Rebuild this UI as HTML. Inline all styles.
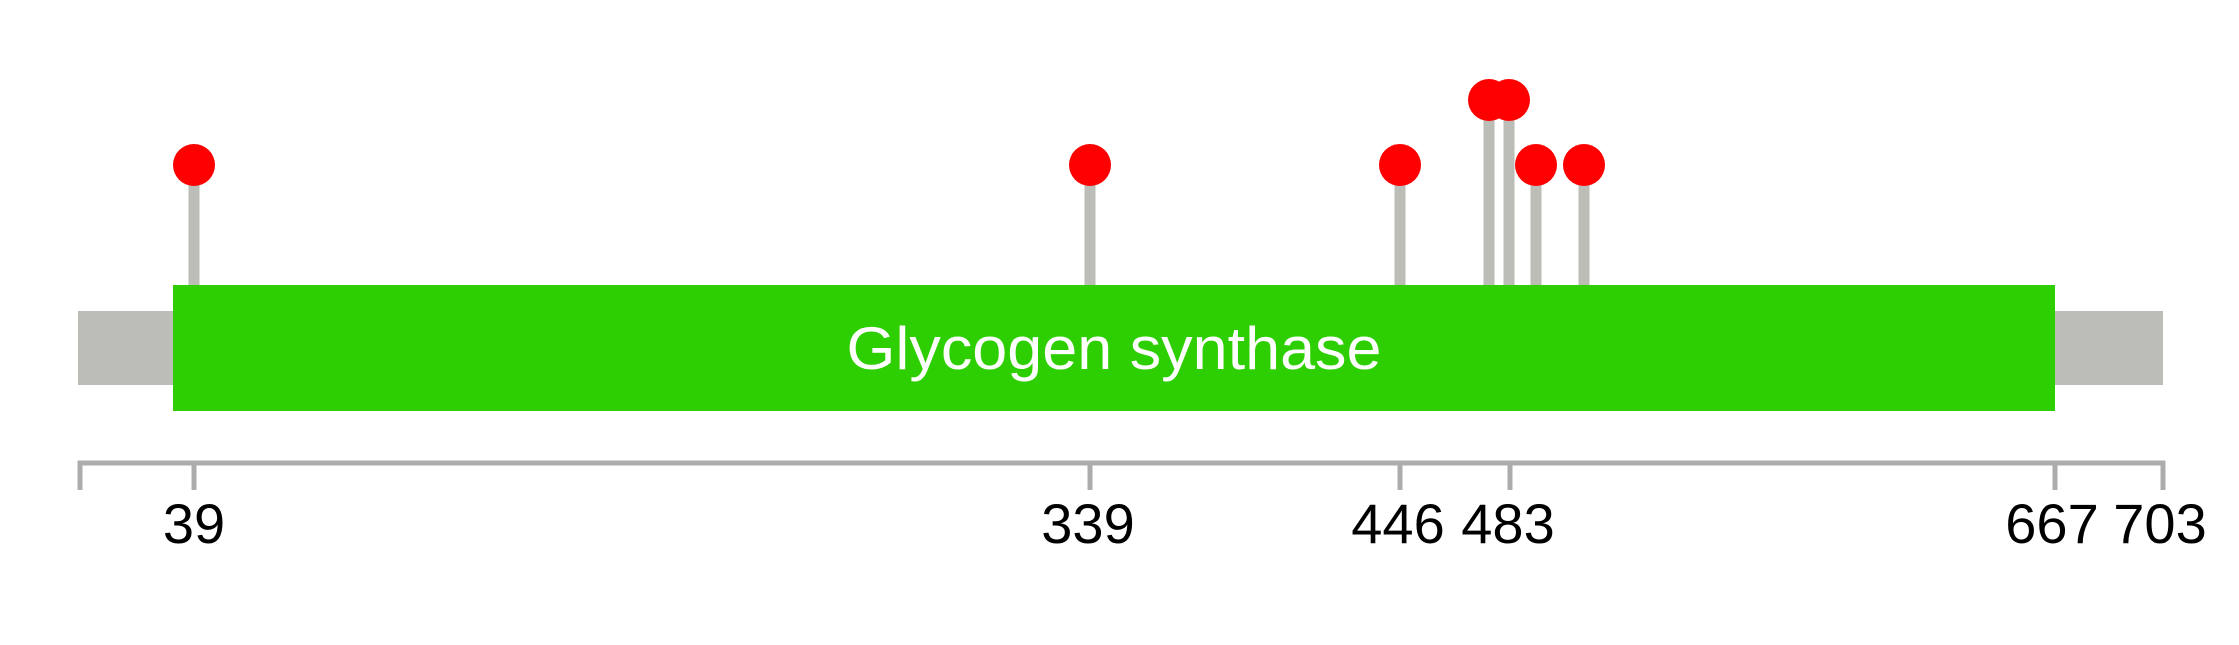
<!DOCTYPE html>
<html><head><meta charset="utf-8"><style>html,body{margin:0;padding:0;background:#fff}svg{display:block}</style></head>
<body>
<svg width="2239" height="645" xmlns="http://www.w3.org/2000/svg" font-family="Liberation Sans, Arial, sans-serif">
<rect x="78" y="311" width="2085" height="74" fill="#bbbdb6"/>
<g stroke="#bbbdb6" stroke-width="11">
<line x1="194" y1="165" x2="194" y2="286"/>
<line x1="1090" y1="165" x2="1090" y2="286"/>
<line x1="1400" y1="165" x2="1400" y2="286"/>
<line x1="1489" y1="100" x2="1489" y2="286"/>
<line x1="1509" y1="100" x2="1509" y2="286"/>
<line x1="1536" y1="165" x2="1536" y2="286"/>
<line x1="1584" y1="165" x2="1584" y2="286"/>
</g>
<rect x="173" y="285" width="1882" height="126" fill="#2ecf02"/>
<text x="1114" y="369" font-size="60" fill="#fff" text-anchor="middle" textLength="535" lengthAdjust="spacingAndGlyphs">Glycogen synthase</text>
<g fill="#ff0000">
<circle cx="194" cy="165" r="21"/>
<circle cx="1090" cy="165" r="21"/>
<circle cx="1400" cy="165" r="21"/>
<circle cx="1489" cy="100" r="21"/>
<circle cx="1509" cy="100" r="21"/>
<circle cx="1536" cy="165" r="21"/>
<circle cx="1584" cy="165" r="21"/>
</g>
<g stroke="#acacac" stroke-width="5">
<line x1="78" y1="463" x2="2165" y2="463"/>
<line x1="80" y1="461" x2="80" y2="490"/>
<line x1="194" y1="461" x2="194" y2="490"/>
<line x1="1090" y1="461" x2="1090" y2="490"/>
<line x1="1400" y1="461" x2="1400" y2="490"/>
<line x1="1510" y1="461" x2="1510" y2="490"/>
<line x1="2055" y1="461" x2="2055" y2="490"/>
<line x1="2163" y1="461" x2="2163" y2="490"/>
</g>
<g font-size="56" fill="#000" text-anchor="middle">
<text x="194" y="543">39</text>
<text x="1088" y="543">339</text>
<text x="1398" y="543">446</text>
<text x="1508" y="543">483</text>
<text x="2052" y="543">667</text>
<text x="2160" y="543">703</text>
</g>
</svg>
</body></html>
